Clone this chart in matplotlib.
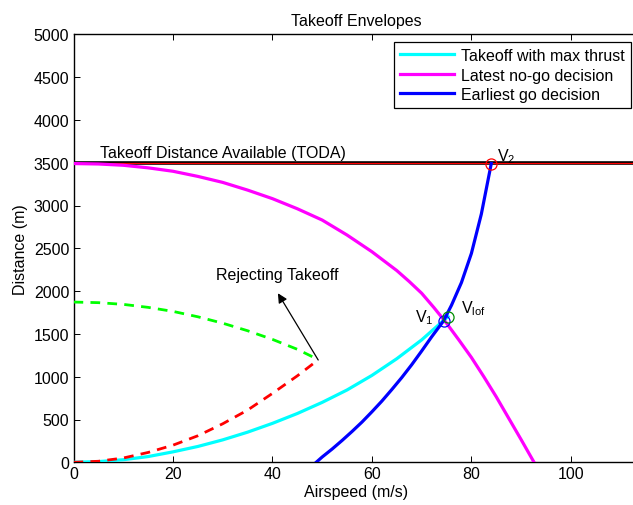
import matplotlib
matplotlib.use("Agg")
import matplotlib.pyplot as plt

# ---- data ----
toda = 3500

v_thrust = [0, 5, 10, 15, 20, 25, 30, 35, 40, 45, 50, 55, 60, 65, 70, 75.3]
d_thrust = [0, 8, 30, 67, 122, 185, 262, 352, 455, 570, 700, 845, 1015, 1210, 1430, 1703]

v_nogo = [0, 5, 10, 15, 20, 25, 30, 35, 40, 45, 50, 55, 60, 65, 67.5, 70, 72.5, 75,
          77.5, 80, 82.5, 85, 87.5, 90, 92.6]
d_nogo = [3490, 3485, 3470, 3440, 3400, 3340, 3270, 3180, 3080, 2962, 2830, 2655, 2460,
          2240, 2112, 1975, 1805, 1625, 1428, 1225, 1000, 765, 515, 265, 0]

v_go = [48.8, 50, 52, 54, 56, 58, 60, 62, 64, 66, 68, 70, 72, 74.4, 76, 78, 80, 82, 84.0]
d_go = [0, 62, 155, 255, 360, 470, 590, 715, 850, 990, 1140, 1300, 1465, 1652, 1835,
        2100, 2440, 2900, 3490]

v_accel = [0, 5, 10, 15, 20, 25, 30, 35, 40, 45, 49.2]
d_accel = [0, 12, 50, 115, 200, 310, 450, 610, 805, 1010, 1197]

v_stop = [0, 5, 10, 15, 20, 25, 30, 35, 40, 45, 49.2]
d_stop = [1872, 1865, 1845, 1810, 1763, 1700, 1625, 1537, 1436, 1320, 1200]

v1 = (74.4, 1652)
vlof = (75.3, 1703)
v2 = (84.0, 3490)

xticks = [0, 20, 40, 60, 80, 100]
yticks = list(range(0, 5001, 500))

plt.rcParams['font.family'] = ['Liberation Sans', 'DejaVu Sans']
fs = 11.5

fig = plt.figure(figsize=(6.33, 5.06), dpi=100)
ax = fig.add_axes([73.5/633, 42.7/506, (639-73.5)/633, (463.3-35.3)/506])

ax.axhline(toda, color='black', lw=2.6, zorder=2)
ax.axhline(toda, color='red', lw=0.9, zorder=2.1)

l1, = ax.plot(v_thrust, d_thrust, color=(0, 1, 1), lw=2.3, label='Takeoff with max thrust', zorder=3)
l2, = ax.plot(v_nogo, d_nogo, color=(1, 0, 1), lw=2.3, label='Latest no-go decision', zorder=3)
l3, = ax.plot(v_go, d_go, color=(0, 0, 1), lw=2.3, label='Earliest go decision', zorder=3)
ax.plot(v_accel, d_accel, color=(1, 0, 0), lw=2.0, ls=(0, (3.5, 2.6)), zorder=3)
ax.plot(v_stop, d_stop, color=(0, 1, 0), lw=2.0, ls=(0, (3.5, 2.6)), zorder=3)

ax.plot([v1[0]], [v1[1]], 'o', mfc='none', mec=(0, 0, 1), ms=8, mew=0.9, zorder=4)
ax.plot([vlof[0]], [vlof[1]], 'o', mfc='none', mec=(0, 0.55, 0), ms=8, mew=0.9, zorder=4)
ax.plot([v2[0]], [v2[1]], 'o', mfc='none', mec=(1, 0, 0), ms=8, mew=0.9, zorder=4)

ax.text(5.3, 3530, 'Takeoff Distance Available (TODA)', fontsize=fs, ha='left', va='bottom')
ax.text(68.6, 1590, r'V$_{\mathregular{1}}$', fontsize=fs, ha='left', va='bottom')
ax.text(78.0, 1700, r'V$_{\mathregular{lof}}$', fontsize=fs, ha='left', va='bottom')
ax.text(85.2, 3470, r'V$_{\mathregular{2}}$', fontsize=fs, ha='left', va='bottom')

ax.annotate('', xy=(41.1, 1975), xytext=(49.2, 1195),
            arrowprops=dict(arrowstyle='-|>', color='black', lw=0.9, mutation_scale=14, shrinkA=0, shrinkB=0))
ax.text(41.0, 2197, 'Rejecting Takeoff', fontsize=fs, ha='center', va='center')

ax.set_xlim(0, 113.7)
ax.set_ylim(0, 5000)
ax.set_xticks(xticks)
ax.set_yticks(yticks)
ax.tick_params(direction='in', top=True, right=True, length=4, width=0.7, labelsize=fs, pad=3)
for s in ax.spines.values():
    s.set_linewidth(1.0)

ax.set_xlabel('Airspeed (m/s)', fontsize=fs, labelpad=2)
ax.set_ylabel('Distance (m)', fontsize=fs, labelpad=4)
ax.set_title('Takeoff Envelopes', fontsize=fs, pad=7)

leg = ax.legend(handles=[l1, l2, l3], loc='upper right', bbox_to_anchor=(631/633, 1 - 42.7/506),
                bbox_transform=fig.transFigure, borderaxespad=0, fancybox=False, framealpha=1,
                edgecolor='black', fontsize=fs, handlelength=3.4, handletextpad=0.4,
                labelspacing=0.28, borderpad=0.4)
leg.get_frame().set_linewidth(0.9)

fig.savefig('out.png', dpi=100)
